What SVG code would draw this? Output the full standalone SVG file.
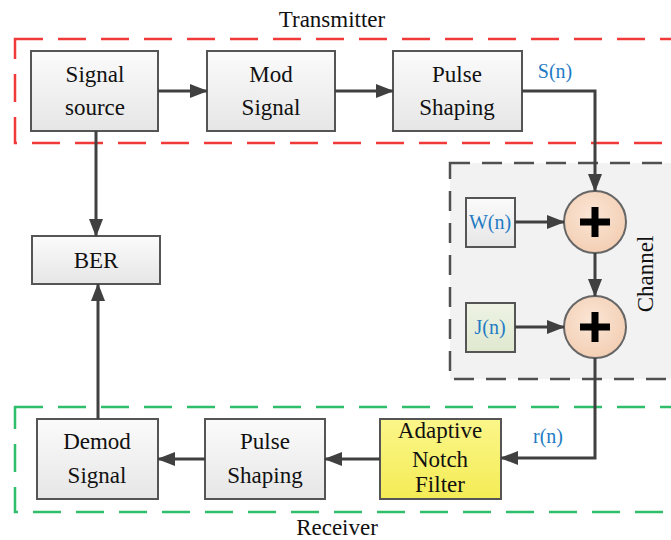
<svg xmlns="http://www.w3.org/2000/svg" width="671" height="540" viewBox="0 0 671 540">
<defs>
<linearGradient id="gbox" x1="0" y1="0" x2="0" y2="1"><stop offset="0" stop-color="#fbfbfb"/><stop offset="1" stop-color="#e6e6e6"/></linearGradient>
<linearGradient id="gyel" x1="0" y1="0" x2="0" y2="1"><stop offset="0" stop-color="#fbf68a"/><stop offset="1" stop-color="#f4ec55"/></linearGradient>
<linearGradient id="ggrn" x1="0" y1="0" x2="0" y2="1"><stop offset="0" stop-color="#eef3e4"/><stop offset="1" stop-color="#dfe8cf"/></linearGradient>
<radialGradient id="gcir" cx="0.45" cy="0.4" r="0.6"><stop offset="0" stop-color="#fbe6d6"/><stop offset="1" stop-color="#f3cfb4"/></radialGradient>
<marker id="arr" markerWidth="18" markerHeight="14" refX="17" refY="7" orient="auto" markerUnits="userSpaceOnUse"><path d="M0,0 L18,7 L0,14 Z" fill="#404040"/></marker>
</defs>
<style>
.box{fill:url(#gbox);stroke:#555;stroke-width:2}
.t{font-family:"Liberation Serif",serif;font-size:23px;fill:#111;text-anchor:middle}
.b{font-family:"Liberation Serif",serif;font-size:20px;fill:#1f7bc4;text-anchor:middle}
.c{fill:none;stroke:#404040;stroke-width:3}
.ca{fill:none;stroke:#404040;stroke-width:3;marker-end:url(#arr)}
</style>
<g id="channel">
<rect x="450" y="163" width="240" height="216" fill="#f2f2f2" stroke="#505050" stroke-width="2.5" stroke-dasharray="20,12"/>
<text class="t" transform="translate(653,274) rotate(-90)">Channel</text>
</g>
<g id="transmitter">
<rect x="15" y="39" width="680" height="104" fill="none" stroke="#f03a3a" stroke-width="2.5" stroke-dasharray="28,15"/>
<text class="t" x="332" y="27">Transmitter</text>
</g>
<g id="receiver">
<rect x="15" y="407" width="680" height="105" fill="none" stroke="#2fbf6a" stroke-width="2.5" stroke-dasharray="28,15"/>
<text class="t" x="337" y="535">Receiver</text>
</g>
<g id="signal-source"><rect class="box" x="31" y="51" width="127" height="80"/><text class="t" x="95" y="82">Signal</text><text class="t" x="95" y="115">source</text></g>
<g id="mod-signal"><rect class="box" x="207" y="51" width="128" height="80"/><text class="t" x="271" y="82">Mod</text><text class="t" x="271" y="115">Signal</text></g>
<g id="pulse-tx"><rect class="box" x="393" y="51" width="129" height="80"/><text class="t" x="457" y="82">Pulse</text><text class="t" x="457" y="115">Shaping</text></g>
<g id="ber"><rect class="box" x="32" y="236" width="128" height="48"/><text class="t" x="96" y="268">BER</text></g>
<g id="wn"><rect class="box" x="466" y="198" width="49" height="49"/><text class="b" x="490" y="229">W(n)</text></g>
<g id="jn"><rect x="466" y="303" width="49" height="49" fill="url(#ggrn)" stroke="#555" stroke-width="2"/><text class="b" x="490" y="334">J(n)</text></g>
<g id="sum1"><circle cx="595" cy="222" r="31" fill="url(#gcir)" stroke="#666" stroke-width="2"/><path d="M580,222 H610 M595,207 V237" stroke="#000" stroke-width="7"/></g>
<g id="sum2"><circle cx="595" cy="327" r="31" fill="url(#gcir)" stroke="#666" stroke-width="2"/><path d="M580,327 H610 M595,312 V342" stroke="#000" stroke-width="7"/></g>
<g id="demod"><rect class="box" x="37" y="419" width="121" height="80"/><text class="t" x="97" y="449">Demod</text><text class="t" x="97" y="483">Signal</text></g>
<g id="pulse-rx"><rect class="box" x="205" y="419" width="120" height="80"/><text class="t" x="265" y="449">Pulse</text><text class="t" x="265" y="483">Shaping</text></g>
<g id="anf"><rect x="380" y="419" width="121" height="80" fill="url(#gyel)" stroke="#555" stroke-width="2"/><text class="t" x="440" y="438">Adaptive</text><text class="t" x="440" y="467">Notch</text><text class="t" x="440" y="492">Filter</text></g>
<g id="connectors">
<line class="ca" x1="158" y1="91" x2="207" y2="91"/>
<line class="ca" x1="335" y1="91" x2="393" y2="91"/>
<polyline class="ca" points="522,91 595,91 595,191"/>
<line class="ca" x1="515" y1="222" x2="564" y2="222"/>
<line class="ca" x1="595" y1="253" x2="595" y2="296"/>
<line class="ca" x1="515" y1="327" x2="564" y2="327"/>
<polyline class="ca" points="595,358 595,458 501,458"/>
<line class="ca" x1="380" y1="459" x2="325" y2="459"/>
<line class="ca" x1="205" y1="459" x2="158" y2="459"/>
<line class="ca" x1="96" y1="131" x2="96" y2="236"/>
<line class="ca" x1="98" y1="419" x2="98" y2="284"/>
<text class="b" x="555" y="78">S(n)</text>
<text class="b" x="548" y="443">r(n)</text>
</g>
</svg>
